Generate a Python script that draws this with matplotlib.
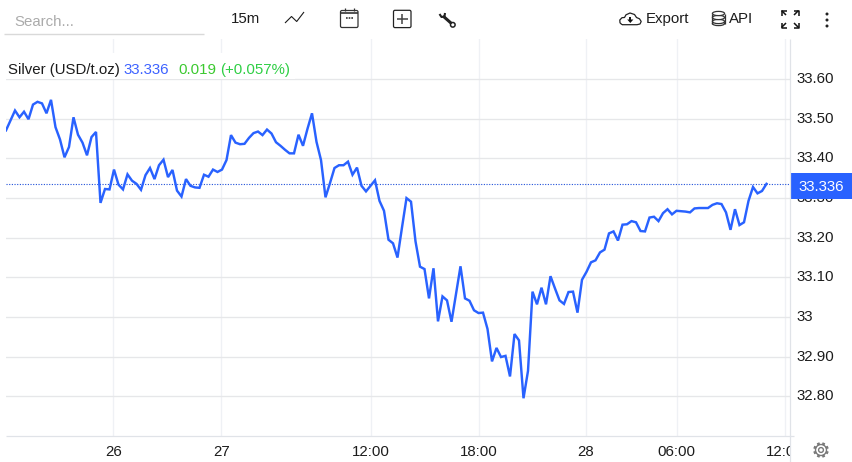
import numpy as np
import matplotlib
matplotlib.use("Agg")
import matplotlib.pyplot as plt
from matplotlib.patches import Rectangle, FancyBboxPatch, Ellipse, Circle, Polygon
from matplotlib.transforms import Bbox, ScaledTranslation

plt.rcParams['font.family'] = ['Liberation Sans', 'DejaVu Sans']

prices = [
    33.471, 33.496, 33.521, 33.504, 33.518, 33.499, 33.536, 33.543, 33.539, 33.514,
    33.548, 33.479, 33.448, 33.403, 33.429, 33.504, 33.460, 33.440, 33.408, 33.454,
    33.467, 33.288, 33.323, 33.322, 33.372, 33.334, 33.322, 33.360, 33.344, 33.336,
    33.321, 33.358, 33.376, 33.348, 33.383, 33.397, 33.353, 33.371, 33.319, 33.304,
    33.348, 33.331, 33.327, 33.326, 33.359, 33.354, 33.372, 33.366, 33.372, 33.396,
    33.459, 33.440, 33.436, 33.437, 33.452, 33.464, 33.468, 33.459, 33.473, 33.463,
    33.441, 33.432, 33.422, 33.413, 33.413, 33.460, 33.432, 33.475, 33.514, 33.442,
    33.396, 33.302, 33.338, 33.376, 33.383, 33.383, 33.392, 33.359, 33.377, 33.331,
    33.317, 33.331, 33.345, 33.293, 33.268, 33.195, 33.186, 33.150, 33.226, 33.300,
    33.291, 33.191, 33.127, 33.121, 33.047, 33.123, 32.989, 33.052, 33.042, 32.988,
    33.058, 33.128, 33.047, 33.041, 33.017, 33.010, 33.011, 32.970, 32.888, 32.922,
    32.899, 32.902, 32.850, 32.957, 32.941, 32.795, 32.864, 33.064, 33.032, 33.074,
    33.032, 33.103, 33.072, 33.042, 33.033, 33.063, 33.064, 33.011, 33.094, 33.114,
    33.138, 33.143, 33.163, 33.170, 33.211, 33.216, 33.193, 33.233, 33.234, 33.242,
    33.239, 33.217, 33.216, 33.251, 33.253, 33.242, 33.262, 33.272, 33.259, 33.268,
    33.267, 33.266, 33.264, 33.274, 33.275, 33.275, 33.275, 33.283, 33.287, 33.285,
    33.264, 33.220, 33.272, 33.232, 33.239, 33.293, 33.328, 33.312, 33.318, 33.336,
]
last_price = 33.336
y_ticks = [32.8, 32.9, 33.0, 33.1, 33.2, 33.3, 33.4, 33.5, 33.6]
y_labels = ['32.80', '32.90', '33', '33.10', '33.20', '33.30', '33.40', '33.50', '33.60']
x_ticks = [23.84, 47.84, 81.0, 105.0, 128.84, 149.0, 173.0]
x_labels = ['26', '27', '12:00', '18:00', '28', '06:00', '12:00']

BLUE = '#2962ff'
W, H = 852, 462
FS = 10.8
fig = plt.figure(figsize=(W/100, H/100), dpi=100, facecolor='white')

L, R, T, B = 6, 790.3, 39, 436.3
ax = fig.add_axes([L/W, 1-B/H, (R-L)/W, (B-T)/H])
ax.plot(np.arange(len(prices)), prices, color=BLUE, lw=1.75, solid_joinstyle='miter', zorder=3)
ax.axhline(last_price, color='#1f4fd8', lw=0.8, ls=(0, (1, 1.4)), zorder=2)
ax.set_xlim(0, (R-L)/4.5)
ax.set_ylim(32.699, 33.7015)
ax.set_xticks(x_ticks, x_labels)
ax.set_yticks(y_ticks, y_labels)
ax.yaxis.tick_right()
ax.tick_params(axis='both', length=0, labelsize=FS, labelcolor='#1c1c1c')
ax.tick_params(axis='y', pad=4.7)
ax.tick_params(axis='x', pad=6.5)
ax.grid(axis='y', color='#e6e7e9', lw=0.95)
ax.grid(axis='x', color='#eff1f5', lw=0.95)
ax.set_axisbelow(True)
for s in ax.spines.values():
    s.set_visible(False)

clip = Bbox([[0, 0], [R, H]])
for lab in ax.get_xticklabels():
    lab.set_clip_box(clip)
    lab.set_clip_on(True)
up = ScaledTranslation(0, 1.5/100, fig.dpi_scale_trans)
for lab in ax.get_yticklabels():
    lab.set_transform(lab.get_transform() + up)

# page chrome in pixel coordinates
ov = fig.add_axes([0, 0, 1, 1], facecolor='none')
ov.set_xlim(0, W); ov.set_ylim(H, 0); ov.axis('off')
INK = '#1c1c1c'

def ln(xs, ys, c=INK, lw=1.0, **k):
    ov.plot(xs, ys, color=c, lw=lw, solid_capstyle=k.pop('cap', 'butt'), **k)

def tx(x, y, s, c=INK, ha='left'):
    ov.text(x, y, s, color=c, fontsize=FS, ha=ha, va='center')

# axis borders
ln([R, R], [T, H], '#e0e3e8', 0.9)
ln([L, 794], [B, B], '#e0e3e8', 0.9)

# legend
ov.add_patch(Rectangle((L, 53), 289, 26, fc='white', ec='none'))
tx(8, 70, 'Silver (USD/t.oz)')
tx(123.5, 70, '33.336', '#3d62ff')
tx(178, 70, '0.019', '#3bc92f')
tx(220, 70, '(+0.057%)', '#2fcf45')

# price tag
ov.add_patch(Rectangle((790.7, 173.3), 62, 25.7, fc=BLUE, ec='none'))
tx(820.8, 187, '33.336', 'white', ha='center')

# toolbar
tx(14, 22.5, 'Search...', '#ababab')
ln([4, 204], [34, 34], '#d9d9d9', 1.0)
tx(231, 19.3, '15m')
ln([285, 291.5, 296.7, 304], [23, 16.5, 21.5, 12], INK, 0.8)
# calendar
ov.add_patch(FancyBboxPatch((340.5, 10.5), 17.5, 17, boxstyle='round,pad=0,rounding_size=1.5', fc='none', ec='#333333', lw=0.9))
ln([340.5, 358], [13.2, 13.2], '#333333', 1.2)
ln([344.5, 344.5], [8, 11], '#333333', 0.9)
ln([353.5, 353.5], [8, 11], '#333333', 0.9)
ln([345.5, 352.5], [18, 18], '#333333', 1.2, ls=(0, (1, 0.6)))
# plus box
ov.add_patch(FancyBboxPatch((393.5, 10.3), 17.5, 17.3, boxstyle='round,pad=0,rounding_size=1.5', fc='none', ec='#222222', lw=0.9))
ln([397, 407.5], [19, 19], '#444444', 1.1)
ln([402.2, 402.2], [13.8, 24.2], '#444444', 1.1)
# wrench
ln([443, 451.5], [16, 23.5], '#222222', 2.2)
ln([439.5, 441.5, 444.5, 445], [14, 17, 16.5, 13], '#222222', 1.5)
ov.add_patch(Circle((452.8, 24.8), 2.3, fc='white', ec='#222222', lw=1.1))
# cloud download
cx = [622, 620, 619.8, 622, 624.5, 626, 630, 634.5, 636.5, 639.5, 641.2, 640, 637, 622]
cy = [24.7, 22.8, 20, 17.7, 17.5, 14.8, 13, 14.5, 17.5, 18.8, 21.5, 24, 24.7, 24.7]
ln(cx, cy, '#222222', 0.9)
ln([630.3, 630.3], [16.5, 20], '#111111', 1.4)
ov.add_patch(Polygon([[627.2, 19.5], [633.4, 19.5], [630.3, 23]], fc='#111111', ec='none'))
tx(645.3, 19.3, 'Export')
# database
ov.add_patch(Ellipse((718.5, 23.5), 12.2, 4.2, fc='none', ec='#333333', lw=0.9))
for yc in (21.5, 17.5, 13.5):
    ov.add_patch(Ellipse((718.5, yc), 12.2, 4.2, fc='white', ec='#333333', lw=0.9))
ln([712.4, 712.4], [13.5, 23.5], '#333333', 0.9)
ln([724.6, 724.6], [13.5, 23.5], '#333333', 0.9)
tx(729.3, 19.3, 'API')
# fullscreen
for xa, ya, sx, sy in ((781.5, 10.5, 1, 1), (798.5, 10.5, -1, 1), (781.5, 27.5, 1, -1), (798.5, 27.5, -1, -1)):
    ln([xa, xa, xa + 5*sx], [ya + 5*sy, ya, ya], '#111111', 1.1)
    ln([xa, xa + 4.5*sx], [ya, ya + 4.5*sy], '#111111', 1.1)
# menu dots
for yd in (14, 20, 26):
    ov.add_patch(Circle((827, yd), 1.5, fc='#222222', ec='none'))
# gear
gc, gy = 821, 450
for a in np.deg2rad(np.arange(0, 360, 45) + 22.5):
    ln([gc + 5.2*np.cos(a), gc + 7.8*np.cos(a)], [gy + 5.2*np.sin(a), gy + 7.8*np.sin(a)], '#7a7a7a', 2.0)
ov.add_patch(Circle((gc, gy), 5.5, fc='white', ec='#7a7a7a', lw=1.0))
ov.add_patch(Circle((gc, gy), 2.4, fc='white', ec='#7a7a7a', lw=1.0))

fig.savefig('out.png', dpi=100)
